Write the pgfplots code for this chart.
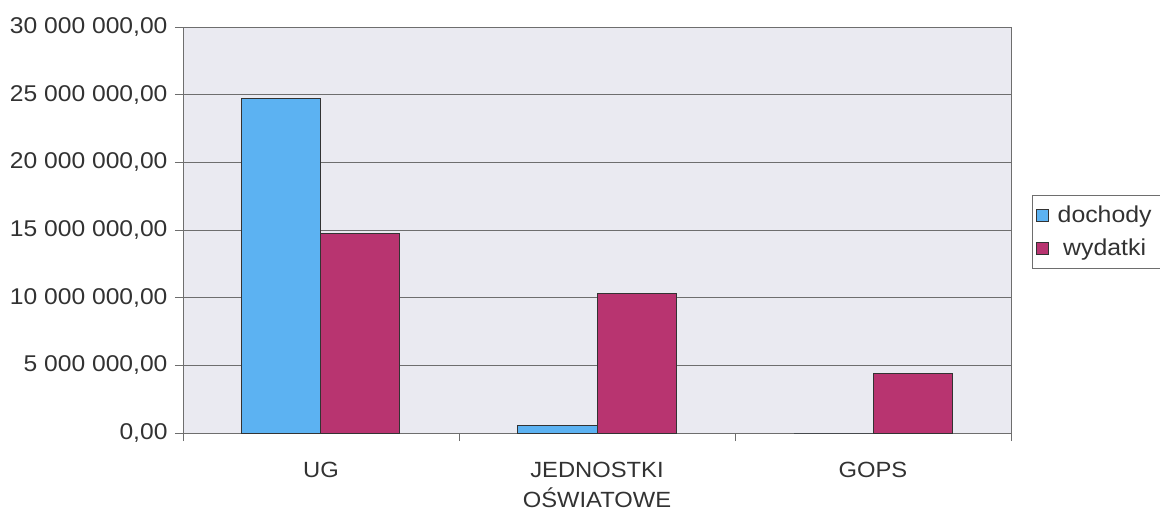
\documentclass[border=0pt]{standalone}
\usepackage{pgfplots}
\pgfplotsset{compat=1.18}
\usepackage{fontspec}
\setmainfont{Liberation Sans}[FakeStretch=1.08]
\definecolor{dochc}{RGB}{92,178,242}
\definecolor{wydc}{RGB}{184,52,112}
\definecolor{bgc}{RGB}{234,234,241}
\definecolor{txtc}{RGB}{50,50,50}
\definecolor{gridc}{RGB}{110,110,110}
\begin{document}
\begin{tikzpicture}
\fontsize{22}{26}\selectfont
\begin{axis}[
  at={(0,0)}, anchor=south west,
  scale only axis,
  width=828pt, height=406pt,
  ybar=0pt, bar width=79pt,
  xmin=-0.5, xmax=2.5,
  ymin=0, ymax=30000000,
  xtick={-0.5,0.5,1.5,2.5},
  x tick label as interval,
  xticklabels={UG,{JEDNOSTKI\\OŚWIATOWE},GOPS},
  xticklabel style={align=center, font=\fontsize{22}{30}\selectfont, text=txtc, yshift=-14pt},
  ytick={0,5000000,10000000,15000000,20000000,25000000,30000000},
  yticklabels={{0,00},{5 000 000,00},{10 000 000,00},{15 000 000,00},{20 000 000,00},{25 000 000,00},{30 000 000,00}},
  yticklabel style={font=\fontsize{22.8}{26}\selectfont, text=txtc},
  tick pos=left,
  tick align=outside, major tick length=8pt,
  tick style={gridc, line width=0.8pt},
  ymajorgrids, major grid style={gridc, line width=0.8pt},
  axis line style={gridc, line width=0.9pt},
  axis background/.style={fill=bgc},
  scaled y ticks=false,
  legend style={at={(1.025,0.495)}, anchor=west, draw=gridc, line width=0.8pt, fill=white,
    font=\fontsize{23}{28}\selectfont, text=txtc, inner xsep=4pt, inner ysep=8pt, row sep=9pt,
    nodes={inner xsep=5pt}},
  legend image code/.code={\draw[#1, line width=0.6pt] (2pt,-6pt) rectangle (14pt,6pt);},
]
\addplot[fill=dochc, draw=black!80, line width=1pt] coordinates {(0,24700000) (1,540000) (2,0)};
\addlegendentry{\hspace{4pt}dochody}
\addplot[fill=wydc, draw=black!80, line width=1pt] coordinates {(0,14750000) (1,10330000) (2,4380000)};
\addlegendentry{\hspace{4pt}wydatki}
\end{axis}
\pgfresetboundingbox
\useasboundingbox (-183pt,-79pt) rectangle (977pt,433pt);
\end{tikzpicture}
\end{document}
